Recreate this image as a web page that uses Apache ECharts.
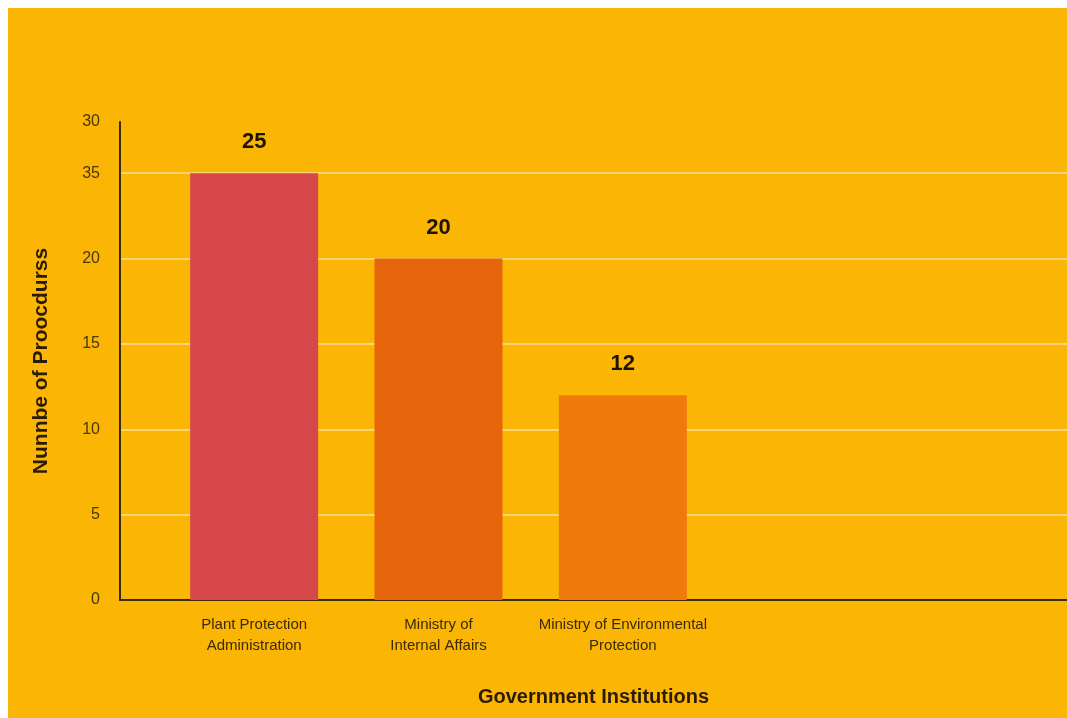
<!DOCTYPE html>
<html>
<head>
<meta charset="utf-8">
<script src="https://cdn.jsdelivr.net/npm/echarts@6/dist/echarts.min.js"></script>
<style>
html,body{margin:0;padding:0;background:#ffffff;}
#chart{position:absolute;left:8px;top:8px;width:1059px;height:710px;}
</style>
</head>
<body>
<div id="chart"></div>
<script>
const categories = ['Plant Protection\nAdministration', 'Ministry of\nInternal Affairs', 'Ministry of Environmental\nProtection'];
const values = [25, 20, 12];
const barColors = ['#D6484A', '#E5650A', '#F07A0C'];
const yTickLabels = ['0', '5', '10', '15', '20', '35', '30'];
const yTitle = 'Nunnbe of Proocdurss';
const xTitle = 'Government Institutions';

const FONT = 'Liberation Sans, Arial, sans-serif';
const chart = echarts.init(document.getElementById('chart'), null, {renderer: 'canvas'});
chart.setOption({
  backgroundColor: '#FBB504',
  animation: false,
  grid: [
    {left: 112, right: 0, top: 114, bottom: 118, containLabel: false, outerBoundsMode: 'none'},
    {left: 154, width: 553, top: 114, bottom: 118, containLabel: false, outerBoundsMode: 'none'}
  ],
  xAxis: [
    {
      gridIndex: 0, type: 'category', data: [''],
      axisLine: {show: true, lineStyle: {color: '#3a2a08', width: 2}},
      axisTick: {show: false}, axisLabel: {show: false},
      name: xTitle, nameLocation: 'middle', nameGap: 87,
      nameTextStyle: {fontFamily: FONT, fontSize: 20, fontWeight: 'bold', color: '#2a1c04'}
    },
    {
      gridIndex: 1, type: 'category', data: categories,
      axisLine: {show: false}, axisTick: {show: false},
      axisLabel: {interval: 0, margin: 14, fontFamily: FONT, fontSize: 15, color: '#3a2a08', lineHeight: 21}
    }
  ],
  yAxis: [
    {
      gridIndex: 0, type: 'value', min: 0, max: 28, interval: 5,
      axisLine: {show: true, lineStyle: {color: '#3a2a08', width: 2}},
      axisTick: {show: false},
      axisLabel: {
        margin: 20, fontFamily: FONT, fontSize: 16, color: '#4a3608',
        showMaxLabel: true,
        formatter: function (v, i) { return yTickLabels[i] !== undefined ? yTickLabels[i] : ''; }
      },
      splitLine: {show: true, showMinLine: false, showMaxLine: false, lineStyle: {color: '#FDD470', width: 2}},
      name: yTitle, nameLocation: 'middle', nameGap: 68, nameRotate: 90,
      nameTextStyle: {fontFamily: FONT, fontSize: 21, fontWeight: 'bold', color: '#2a1c04'}
    },
    {
      gridIndex: 1, type: 'value', min: 0, max: 28, show: false
    }
  ],
  series: [{
    type: 'bar',
    xAxisIndex: 1, yAxisIndex: 1,
    data: values.map((v, i) => ({value: v, itemStyle: {color: barColors[i]}})),
    barWidth: 128,
    label: {show: true, position: 'top', distance: 20, fontFamily: FONT, fontSize: 22, fontWeight: 'bold', color: '#1e1404'}
  }]
});
</script>
</body>
</html>
